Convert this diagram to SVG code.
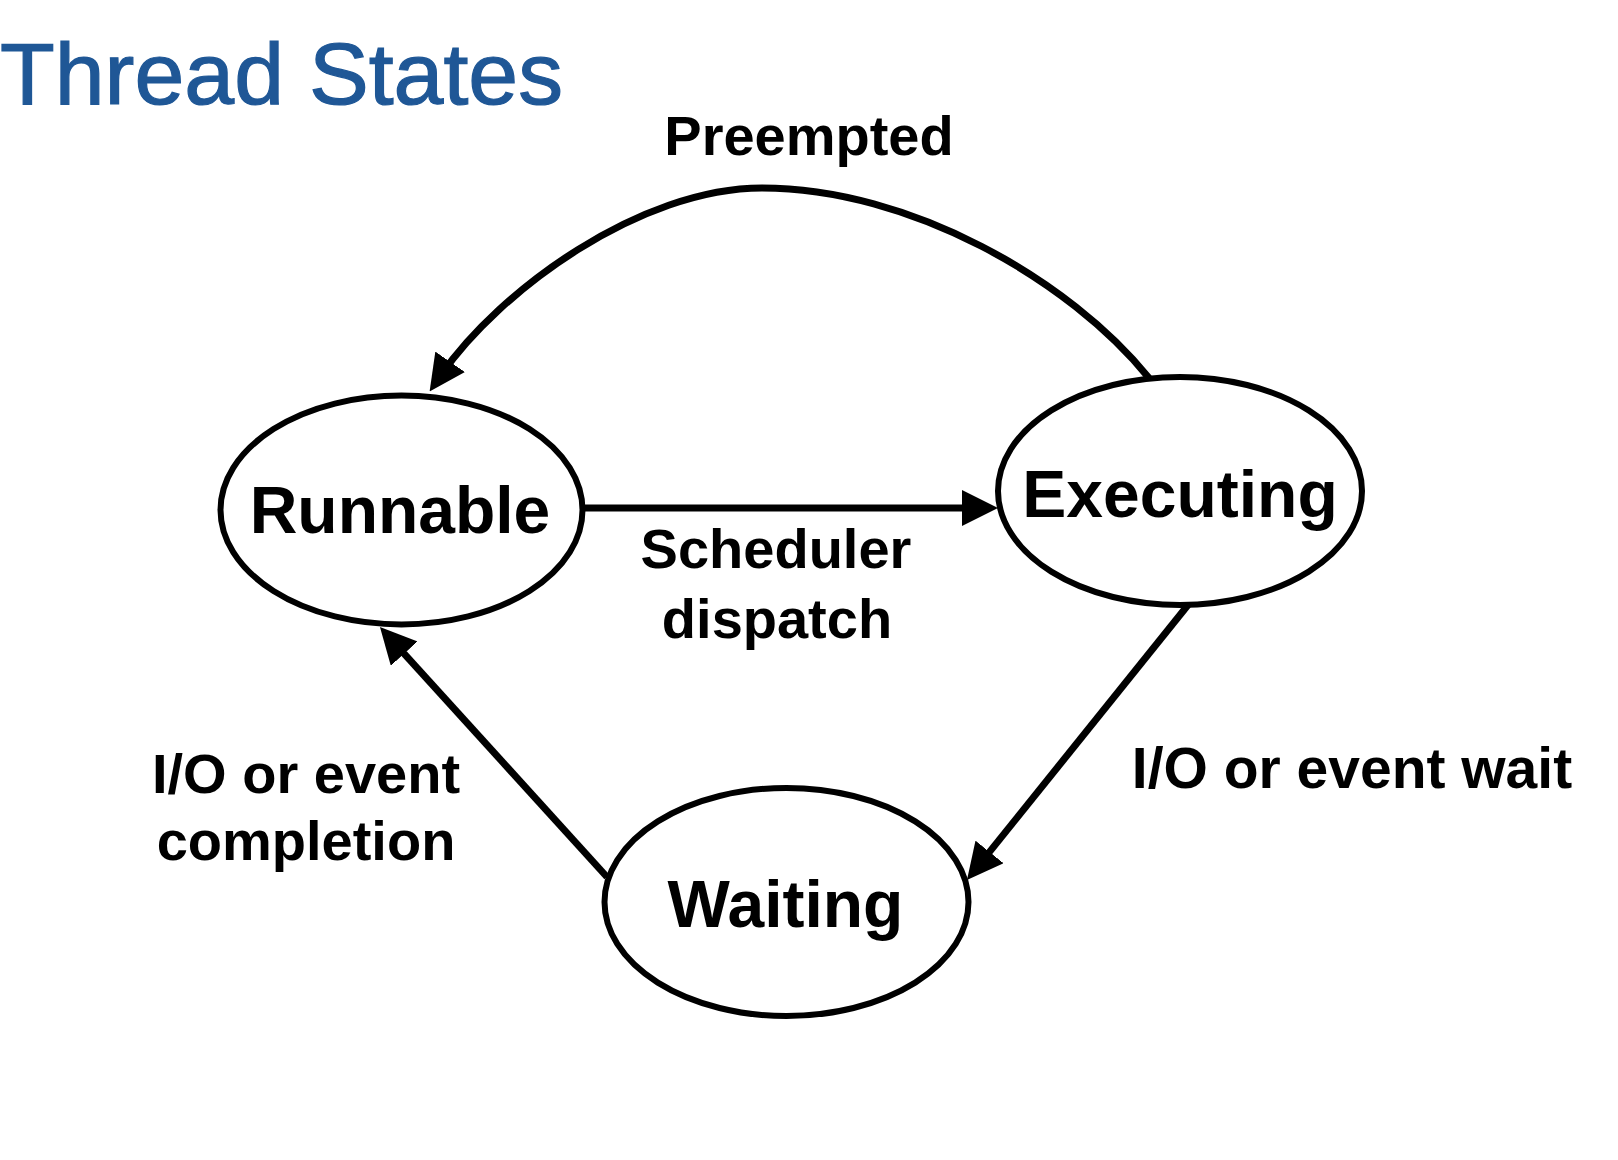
<svg xmlns="http://www.w3.org/2000/svg" width="1618" height="1160" viewBox="0 0 1618 1160">
<style>
.node{fill:#fff;stroke:#000;stroke-width:6}
.ntext{font-family:"Liberation Sans",Arial,sans-serif;font-weight:bold;font-size:66px;fill:#000;text-anchor:middle}
.lbl{font-family:"Liberation Sans",Arial,sans-serif;font-weight:bold;font-size:56px;fill:#000;text-anchor:middle}
.edge{fill:none;stroke:#000;stroke-width:7}
.title{font-family:"Liberation Sans",Arial,sans-serif;font-size:87px;fill:#1f5796;stroke:#1f5796;stroke-width:1.2}
</style>
<defs>
<marker id="arr" markerUnits="userSpaceOnUse" markerWidth="36" markerHeight="36" refX="16" refY="18" orient="auto">
<path d="M0,0 L36,18 L0,36 Z" fill="#000"/>
</marker>
</defs>
<rect width="1618" height="1160" fill="#fff"/>
<text class="title" x="0" y="104" textLength="563" lengthAdjust="spacingAndGlyphs">Thread States</text>
<g id="connectors">
<path class="edge" marker-end="url(#arr)" d="M1149,378 C1070,280 910,188 762,188 C640,188 500,290 441,375"/>
<path class="edge" marker-end="url(#arr)" d="M585,508 L978,508"/>
<path class="edge" marker-end="url(#arr)" d="M1188,605 L979.5,864.4"/>
<path class="edge" marker-end="url(#arr)" d="M607,877 L393.4,641.8"/>
</g>
<g id="runnable">
<ellipse class="node" cx="401.5" cy="510" rx="181" ry="114.5"/>
<text class="ntext" x="400" y="533">Runnable</text>
</g>
<g id="executing">
<ellipse class="node" cx="1180" cy="491" rx="182" ry="114"/>
<text class="ntext" x="1180" y="517">Executing</text>
</g>
<g id="waiting">
<ellipse class="node" cx="786.5" cy="902" rx="182" ry="114"/>
<text class="ntext" x="785.5" y="927">Waiting</text>
</g>
<g id="labels">
<text class="lbl" x="809" y="155">Preempted</text>
<text class="lbl" x="776" y="568">Scheduler</text>
<text class="lbl" x="777" y="638">dispatch</text>
<text class="lbl" x="306" y="793">I/O or event</text>
<text class="lbl" x="306" y="860">completion</text>
<text class="lbl" x="1352" y="788" style="font-size:57px">I/O or event wait</text>
</g>
</svg>
